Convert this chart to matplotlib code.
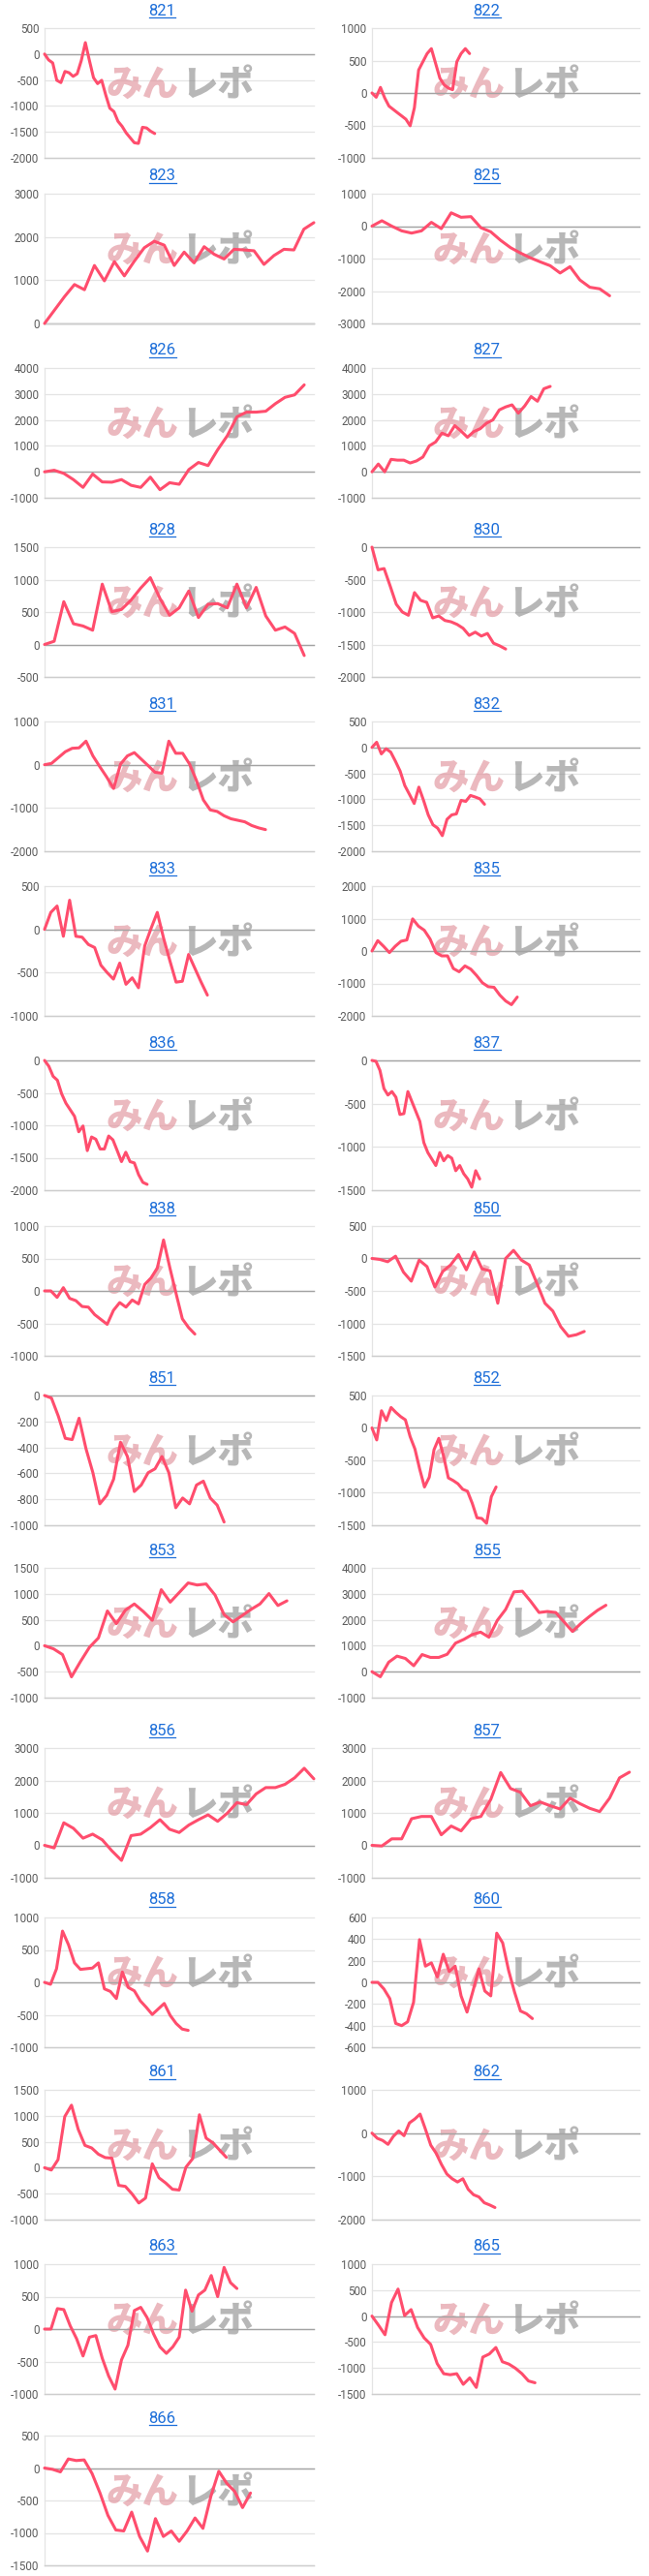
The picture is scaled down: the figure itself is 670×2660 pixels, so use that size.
import numpy as np
import matplotlib
matplotlib.use("Agg")
import matplotlib.pyplot as plt
from matplotlib.lines import Line2D

plt.rcParams['font.family'] = ['Roboto', 'DejaVu Sans']

# machine numbers, in page order
names = ["821", "822", "823", "825", "826", "827", "828", "830", "831", "832",
         "833", "835", "836", "837", "838", "850", "851", "852", "853", "855",
         "856", "857", "858", "860", "861", "862", "863", "865", "866"]

s821 = [0, -114, -171, -506, -550, -335, -360, -430, -380, -127, 220, -127, -456, -570,
        -506, -790, -1044, -1108, -1297, -1392, -1519, -1614, -1709, -1722, -1411, -1424,
        -1487, -1532]
s822 = [0, -66, 86, -76, -202, -253, -304, -354, -405, -506, -228, 354, 481, 607, 683,
        455, 228, 126, 76, 50, 481, 607, 683, 607]
s823 = [0, 310, 620, 900, 780, 1340, 985, 1430, 1100, 1440, 1750, 1900, 1810, 1340, 1650,
        1400, 1775, 1600, 1490, 1715, 1700, 1680, 1365, 1570, 1715, 1700, 2180, 2330]
s825 = [0, 166, 0, -146, -215, -146, 117, -78, 410, 273, 293, -49, -176, -439, -664, -830,
        -976, -1103, -1220, -1445, -1250, -1660, -1884, -1933, -2147]
s826 = [0, 60, -60, -300, -600, -85, -390, -400, -300, -520, -600, -205, -690, -420, -480,
        85, 360, 240, 850, 1390, 2120, 2300, 2300, 2335, 2625, 2870, 2965, 3350]
s827 = [0, 300, 0, 480, 450, 450, 340, 420, 570, 1000, 1150, 1490, 1390, 1780, 1570, 1330,
        1550, 1660, 1875, 2000, 2385, 2500, 2580, 2260, 2540, 2900, 2720, 3200, 3290]
s828 = [0, 50, 660, 320, 285, 220, 930, 505, 540, 685, 870, 1030, 710, 450, 565, 825, 415,
        620, 630, 565, 930, 565, 880, 440, 220, 270, 170, -170]
s830 = [0, -350, -330, -600, -880, -1000, -1050, -700, -820, -850, -1090, -1060, -1130,
        -1150, -1190, -1250, -1360, -1310, -1370, -1330, -1480, -1520, -1570]
s831 = [0, 30, 165, 300, 380, 390, 545, 205, -45, -285, -550, 15, 205, 280, 130, -20, -175,
        -195, 545, 265, 265, 15, -365, -815, -1045, -1080, -1180, -1250, -1285, -1320,
        -1405, -1460, -1500]
s832 = [0, 100, -125, -25, -90, -265, -455, -735, -905, -1080, -765, -1020, -1300, -1490,
        -1555, -1700, -1385, -1300, -1280, -1020, -1040, -925, -955, -990, -1095]
s833 = [0, 196, 270, -80, 337, -80, -90, -175, -210, -415, -500, -575, -390, -635, -560,
        -675, -190, 10, 196, -100, -360, -610, -600, -290, -450, -610, -760]
s835 = [0, 320, 145, -50, 145, 300, 340, 990, 765, 640, 370, -50, -150, -150, -540, -640,
        -460, -560, -755, -980, -1100, -1120, -1360, -1540, -1655, -1420]
s836 = [0, -90, -245, -305, -515, -660, -760, -860, -1100, -1010, -1390, -1180, -1215,
        -1365, -1365, -1165, -1225, -1390, -1560, -1415, -1560, -1580, -1760, -1880, -1910]
s837 = [0, -10, -115, -325, -400, -360, -425, -625, -615, -360, -475, -590, -705, -950,
        -1065, -1140, -1215, -1065, -1160, -1100, -1130, -1275, -1215, -1310, -1370, -1465,
        -1275, -1370]
s838 = [0, 0, -100, 50, -115, -150, -240, -250, -365, -440, -515, -300, -180, -250, -140,
        -200, 100, 200, 350, 785, 360, -40, -430, -565, -665]
s850 = [0, -15, -50, 35, -210, -350, -25, -125, -440, -200, -100, 60, -175, 100, -160, -190,
        -690, 0, 125, -25, -100, -390, -690, -810, -1050, -1200, -1175, -1125]
s851 = [0, -20, -160, -330, -340, -175, -410, -595, -835, -770, -645, -360, -470, -740,
        -690, -595, -565, -470, -595, -865, -790, -835, -690, -660, -790, -845, -975]
s852 = [0, -185, 265, 115, 315, 240, 175, 125, -135, -325, -635, -910, -760, -335, -160,
        -435, -770, -810, -860, -945, -975, -1160, -1385, -1395, -1470, -1060, -910]
s853 = [0, -60, -170, -600, -305, -30, 150, 670, 425, 685, 805, 660, 490, 1080, 840, 1025,
        1210, 1170, 1190, 975, 600, 460, 580, 700, 805, 1005, 775, 865]
s855 = [0, -195, 365, 600, 510, 230, 660, 550, 550, 670, 1100, 1245, 1430, 1525, 1330,
        1975, 2400, 3075, 3100, 2710, 2280, 2320, 2280, 1915, 1550, 1855, 2120, 2365, 2560]
s856 = [0, -80, 695, 525, 220, 345, 170, -170, -465, 300, 345, 545, 790, 495, 395, 625, 790,
        940, 740, 990, 1315, 1255, 1585, 1780, 1780, 1880, 2080, 2375, 2050]
s857 = [0, -20, 200, 200, 820, 890, 890, 325, 595, 445, 820, 890, 1415, 2245, 1750, 1635,
        1220, 1335, 1220, 1120, 1455, 1285, 1140, 1040, 1455, 2080, 2255]
s858 = [0, -30, 210, 790, 580, 300, 200, 210, 220, 300, -100, -140, -250, 160, -80, -130,
        -285, -385, -495, -410, -325, -510, -635, -720, -740]
s860 = [0, 0, -60, -150, -380, -400, -365, -185, 395, 150, 180, 50, 260, 100, 150, -125,
        -275, -80, 125, -80, -125, 455, 365, 110, -90, -265, -290, -335]
s861 = [0, -45, 155, 985, 1205, 740, 430, 380, 260, 195, 185, -340, -360, -505, -680, -585,
        75, -195, -295, -415, -430, 10, 175, 1020, 570, 480, 340, 200]
s862 = [0, -120, -170, -260, -75, 50, -60, 235, 325, 440, 90, -280, -465, -725, -945, -1055,
        -1130, -1055, -1300, -1425, -1475, -1610, -1660, -1720]
s863 = [0, 0, 315, 300, 50, -150, -415, -125, -100, -450, -725, -925, -475, -250, 285, 335,
        175, -75, -275, -375, -275, -125, 600, 275, 525, 600, 825, 500, 950, 715, 625]
s865 = [0, -175, -360, 260, 520, 10, 125, -220, -420, -545, -915, -1110, -1130, -1110, -1315,
        -1190, -1375, -790, -730, -605, -880, -925, -1005, -1110, -1250, -1285]
s866 = [0, -20, -60, 140, 115, 125, -85, -385, -730, -955, -970, -680, -1055, -1280, -780,
        -1055, -970, -1130, -970, -770, -930, -435, -50, -235, -360, -610, -385]

series = [s821, s822, s823, s825, s826, s827, s828, s830, s831, s832, s833, s835, s836,
          s837, s838, s850, s851, s852, s853, s855, s856, s857, s858, s860, s861, s862,
          s863, s865, s866]

# horizontal extent of each chart, in data steps
x_span = [66, 63, 27, 27, 28, 42, 28, 44, 39, 57, 43, 46, 63, 67, 43, 34, 39, 56, 30, 32,
          28, 27, 45, 45, 40, 50, 42, 41, 34]

y_min = [-2000, -1000, 0, -3000, -1000, -1000, -500, -2000, -2000, -2000, -1000, -2000,
         -2000, -1500, -1000, -1500, -1000, -1500, -1000, -1000, -1000, -1000, -1000, -600,
         -1000, -2000, -1000, -1500, -1500]
y_max = [500, 1000, 3000, 1000, 4000, 4000, 1500, 0, 1000, 500, 500, 2000, 0, 0, 1000, 500,
         0, 500, 1500, 4000, 3000, 3000, 1000, 600, 1500, 1000, 1000, 1000, 500]
y_step = [500, 500, 1000, 1000, 1000, 1000, 500, 500, 1000, 500, 500, 1000, 500, 500, 500,
          500, 200, 500, 500, 1000, 1000, 1000, 500, 200, 500, 1000, 500, 500, 500]

W, H = 670, 2660
title_y = [11, 182, 362, 547, 727, 897, 1077, 1248, 1423, 1601, 1787, 1962, 2140, 2320, 2497]
col_l = [46, 384]
col_r = [324, 660]
col_c = [167.5, 502.5]

LINE = '#ff4d6d'
GRID = '#e4e4e4'

fig = plt.figure(figsize=(W / 100, H / 100), dpi=100, facecolor='white')

titles = []
for i, name in enumerate(names):
    r, c = divmod(i, 2)
    ty = title_y[r]
    top, bot = ty + 18, ty + 152
    ax = fig.add_axes([col_l[c] / W, 1 - bot / H, (col_r[c] - col_l[c]) / W, (bot - top) / H])

    vals = series[i]
    ax.plot(np.arange(len(vals)), vals, color=LINE, lw=2.2, solid_joinstyle='round',
            solid_capstyle='round', clip_on=False, zorder=4)

    ax.set_xlim(0, x_span[i])
    ax.set_ylim(y_min[i], y_max[i])
    ticks = np.arange(y_min[i], y_max[i] + y_step[i], y_step[i])
    ax.set_yticks(ticks)
    ax.set_yticklabels([str(int(t)) for t in ticks])
    ax.set_xticks([])
    ax.tick_params(axis='y', length=0, pad=4, labelsize=8.4, labelcolor='#5b5b5b')

    ax.grid(axis='y', color=GRID, lw=0.9)
    ax.set_axisbelow(True)
    for gl in ax.get_ygridlines():
        gl.set_clip_on(False)
    if y_min[i] <= 0 <= y_max[i]:
        ax.axhline(0, color='#a3a3a3', lw=1.0, zorder=2, clip_on=False)

    for side in ['top', 'right']:
        ax.spines[side].set_visible(False)
    ax.spines['left'].set_color(GRID)
    ax.spines['left'].set_linewidth(0.9)
    ax.spines['bottom'].set_color('#cdcdcd')
    ax.spines['bottom'].set_linewidth(1.0)

    # watermark
    wm = dict(transform=ax.transAxes, va='center', fontsize=27, fontweight='heavy',
              family=['Noto Sans CJK JP', 'DejaVu Sans'], zorder=1)
    ax.text(0.5, 0.56, "みん", ha='right', color='#e08e98', alpha=0.62, **wm)
    ax.text(0.51, 0.56, "レポ", ha='left', color='#8c8c8c', alpha=0.62, **wm)

    t = fig.text(col_c[c] / W, 1 - ty / H, name, ha='center', va='center',
                 fontsize=12, color='#1e6fd9')
    titles.append(t)

# underline the link-style titles
fig.canvas.draw()
rend = fig.canvas.get_renderer()
for t in titles:
    bb = t.get_window_extent(rend)
    y = (bb.y0 + 0.5) / H
    fig.add_artist(Line2D([bb.x0 / W, bb.x1 / W], [y, y], color='#1e6fd9', lw=0.9))

fig.savefig("out.png", dpi=100, facecolor='white')
